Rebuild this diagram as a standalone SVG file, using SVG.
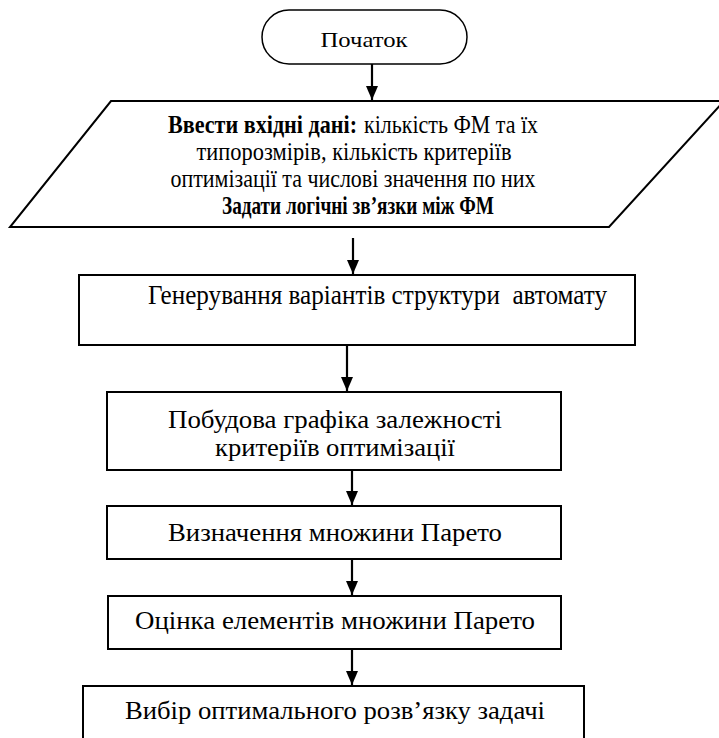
<svg xmlns="http://www.w3.org/2000/svg" width="719" height="738" viewBox="0 0 719 738">
<defs>
<marker id="ah" markerWidth="14" markerHeight="12" refX="14" refY="6" orient="auto" markerUnits="userSpaceOnUse" viewBox="0 0 14 12">
<path d="M0,0 L14,6 L0,12 Z" fill="#000"/>
</marker>
<style>
text{font-family:'Liberation Serif',serif;fill:#000;white-space:pre}
.b{font-weight:bold}
.box{fill:#fff;stroke:#000;stroke-width:2}
.c{stroke:#000;stroke-width:2.2;fill:none}
</style>
</defs>
<rect width="719" height="738" fill="#fff"/>
<g id="start">
<rect x="262" y="10" width="205" height="54" rx="27" ry="27" class="box" style="stroke-width:1.5"/>
<text x="364" y="47" font-size="22" text-anchor="middle" textLength="87" lengthAdjust="spacingAndGlyphs">Початок</text>
</g>
<g id="input">
<polygon points="111,101 724,101 609,227 10,227" class="box"/>
<text class="b" x="168" y="133" font-size="25" textLength="189" lengthAdjust="spacingAndGlyphs">Ввести вхідні дані:</text>
<text x="364" y="133" font-size="25" textLength="174" lengthAdjust="spacingAndGlyphs">кількість ФМ та їх</text>
<text x="354" y="160" font-size="25" text-anchor="middle" textLength="315" lengthAdjust="spacingAndGlyphs">типорозмірів, кількість критеріїв</text>
<text x="353" y="187" font-size="25" text-anchor="middle" textLength="365" lengthAdjust="spacingAndGlyphs">оптимізації та числові значення по них</text>
<text class="b" x="358" y="214" font-size="25" text-anchor="middle" textLength="272" lengthAdjust="spacingAndGlyphs">Задати логічні зв’язки між ФМ</text>
</g>
<g id="generate">
<rect x="79" y="275" width="556" height="70" class="box"/>
<text x="148" y="304" font-size="27" textLength="459" lengthAdjust="spacingAndGlyphs">Генерування варіантів структури  автомату</text>
</g>
<g id="plot">
<rect x="107" y="392" width="454" height="78" class="box"/>
<text x="335" y="428" font-size="26" text-anchor="middle" textLength="334" lengthAdjust="spacingAndGlyphs">Побудова графіка залежності</text>
<text x="335" y="456" font-size="26" text-anchor="middle" textLength="240" lengthAdjust="spacingAndGlyphs">критеріїв оптимізації</text>
</g>
<g id="pareto">
<rect x="107" y="506" width="454" height="53" class="box"/>
<text x="335" y="541" font-size="26" text-anchor="middle" textLength="334" lengthAdjust="spacingAndGlyphs">Визначення множини Парето</text>
</g>
<g id="evaluate">
<rect x="108" y="596" width="453" height="53" class="box"/>
<text x="335" y="629" font-size="26" text-anchor="middle" textLength="400" lengthAdjust="spacingAndGlyphs">Оцінка елементів множини Парето</text>
</g>
<g id="choose">
<rect x="83" y="686" width="501" height="60" class="box"/>
<text x="335" y="719" font-size="26" text-anchor="middle" textLength="420" lengthAdjust="spacingAndGlyphs">Вибір оптимального розв’язку задачі</text>
</g>
<g id="connectors">
<line x1="372" y1="64" x2="372" y2="100" class="c" marker-end="url(#ah)"/>
<line x1="353" y1="238" x2="353" y2="274" class="c" marker-end="url(#ah)"/>
<line x1="347" y1="345" x2="347" y2="391" class="c" marker-end="url(#ah)"/>
<line x1="352" y1="470" x2="352" y2="505" class="c" marker-end="url(#ah)"/>
<line x1="352" y1="559" x2="352" y2="595" class="c" marker-end="url(#ah)"/>
<line x1="352" y1="649" x2="352" y2="685" class="c" marker-end="url(#ah)"/>
</g>
</svg>
